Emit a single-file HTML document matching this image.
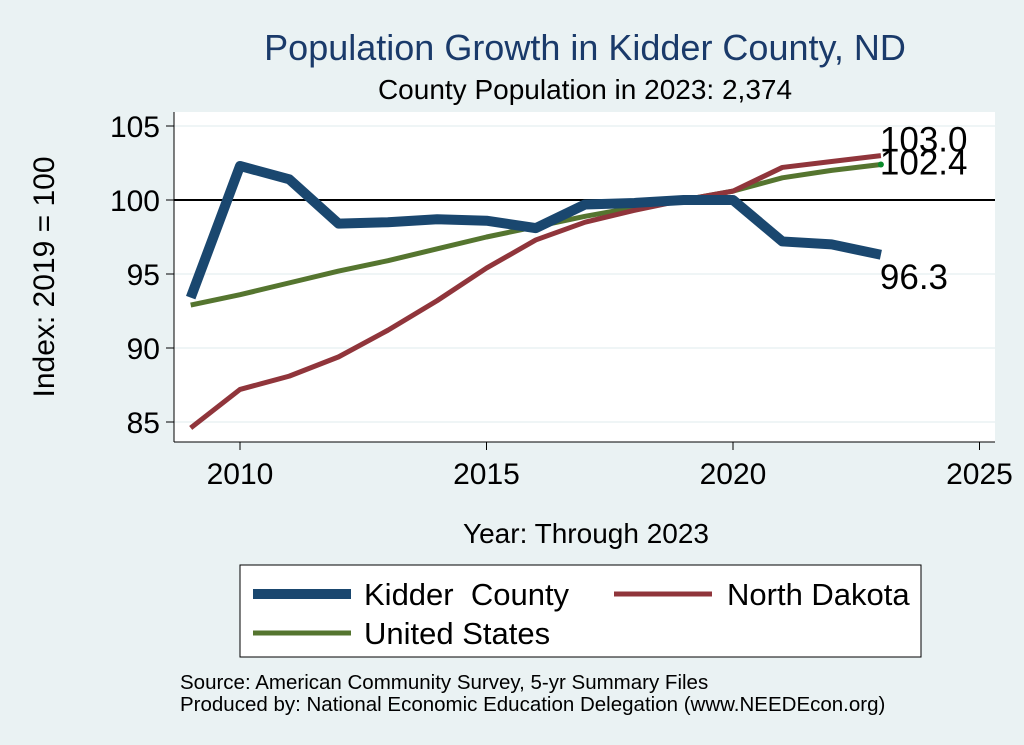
<!DOCTYPE html>
<html><head><meta charset="utf-8"><style>
body{margin:0;background:#eaf2f3;}
svg{display:block;font-family:"Liberation Sans",sans-serif;}
</style></head><body>
<svg id="c" width="1024" height="745">
<rect x="0" y="0" width="1024" height="745" fill="#eaf2f3"/>
<rect x="174" y="112" width="821" height="330" fill="#ffffff"/>
<text x="585" y="60" font-size="36" fill="#1a3a6a" text-anchor="middle">Population Growth in Kidder County, ND</text>
<text x="585" y="99" font-size="28" fill="#000" text-anchor="middle">County Population in 2023: 2,374</text>
<g id="grid"></g><g id="axes"></g><g id="lines"></g>
<text x="54" y="277" font-size="30" text-anchor="middle" transform="rotate(-90 54 277)">Index: 2019 = 100</text>
<text x="586" y="543" font-size="28" text-anchor="middle">Year: Through 2023</text>
<g>
<rect x="240" y="565" width="681" height="92" fill="#fff" stroke="#000" stroke-width="1"/>
<line x1="253" y1="594" x2="351" y2="594" stroke="#1a476f" stroke-width="10"/>
<text x="364" y="605" font-size="31">Kidder&#160; County</text>
<line x1="614" y1="594" x2="712" y2="594" stroke="#90353b" stroke-width="5"/>
<text x="727" y="605" font-size="31">North Dakota</text>
<line x1="253" y1="633" x2="351" y2="633" stroke="#55752f" stroke-width="5"/>
<text x="364" y="644" font-size="31">United States</text>
</g>
<text x="180" y="689" font-size="20.5">Source: American Community Survey, 5-yr Summary Files</text>
<text x="180" y="711" font-size="20.5">Produced by: National Economic Education Delegation (www.NEEDEcon.org)</text>
</svg>
<script>
const years=[2009,2010,2011,2012,2013,2014,2015,2016,2017,2018,2019,2020,2021,2022,2023];
const kidder=[93.4,102.3,101.4,98.4,98.5,98.7,98.6,98.1,99.7,99.8,100,100.0,97.2,97.0,96.3];
const nd=[84.6,87.2,88.1,89.4,91.2,93.2,95.4,97.3,98.5,99.3,100,100.6,102.2,102.6,103.0];
const us=[92.9,93.6,94.4,95.2,95.9,96.7,97.5,98.2,98.9,99.5,100,100.6,101.5,102.0,102.4];
const yTicks=[85,90,95,100,105];
const xTicks=[2010,2015,2020,2025];
const X=v=>240+(v-2010)*49.3;
const Y=v=>200-(v-100)*14.8;
const NS="http://www.w3.org/2000/svg";
function mk(tag,attrs,parent,txt){const e=document.createElementNS(NS,tag);for(const k in attrs)e.setAttribute(k,attrs[k]);if(txt!==undefined)e.textContent=txt;document.getElementById(parent).appendChild(e);return e;}
yTicks.forEach(t=>{
 const g=mk('line',{x1:174,x2:995,y1:Y(t),y2:Y(t),stroke:t===100?'#000':'#eaf2f3','stroke-width':t===100?2:1.5},'grid');
 
 
 const tk=mk('line',{x1:166,x2:174,y1:Y(t),y2:Y(t),stroke:'#000'},'axes');
 
 
 const l=mk('text',{x:160,y:Y(t)+11,'font-size':30,'text-anchor':'end'},'axes',t);
 
 
});
xTicks.forEach(t=>{
 const tk=mk('line',{x1:X(t),x2:X(t),y1:442,y2:450,stroke:'#000'},'axes');
 
 
 const l=mk('text',{x:X(t),y:484,'font-size':30,'text-anchor':'middle'},'axes',t);
 
 
});
const ya=mk('line',{x1:174,x2:174,y1:112,y2:442,stroke:'#000'},'axes');


const xa=mk('line',{x1:174,x2:995,y1:442,y2:442,stroke:'#000'},'axes');


function series(vals,color,w,name){
 const p=mk('polyline',{points:vals.map((v,i)=>X(years[i])+','+Y(v)).join(' '),fill:'none',stroke:color,'stroke-width':w,'stroke-linejoin':'round'},'lines');
 
 
}
series(us,'#55752f',5,'line-united-states');
series(nd,'#90353b',5,'line-north-dakota');
series(kidder,'#1a476f',10,'line-kidder-county');
const last=years[years.length-1];
const d=mk('circle',{cx:X(last),cy:Y(us[us.length-1]),r:3,fill:'#0a8a2a'},'lines');


[[nd,-4,'label-nd-end'],[us,10,'label-us-end'],[kidder,34,'label-kidder-end']].forEach(([s,dy,n])=>{
 const v=s[s.length-1];
 const t=mk('text',{x:X(last)-1,y:Y(v)+dy,'font-size':35},'lines',v.toFixed(1));
 
 
});
</script>
</body></html>
